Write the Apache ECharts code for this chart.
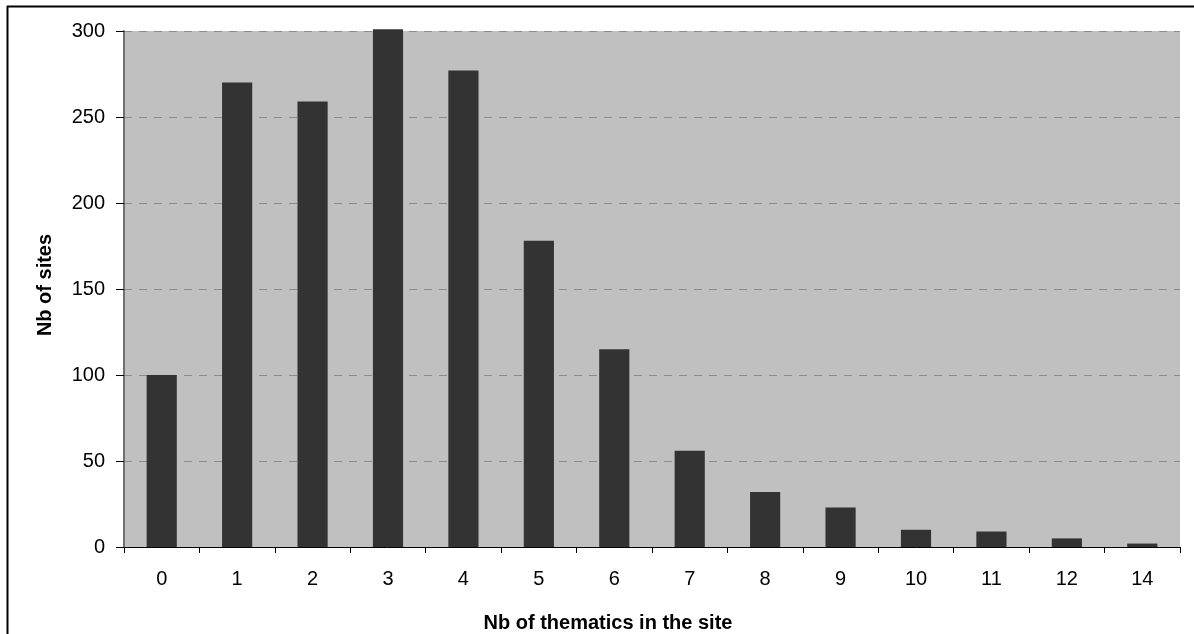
<!DOCTYPE html>
<html>
<head>
<meta charset="utf-8">
<script src="https://cdn.jsdelivr.net/npm/echarts@6/dist/echarts.min.js"></script>
<style>
html,body{margin:0;padding:0;background:#fff;}
#chart{width:1194px;height:634px;}
</style>
</head>
<body>
<div id="chart"></div>
<script>
const categories = ['0','1','2','3','4','5','6','7','8','9','10','11','12','14'];
const siteCounts = [100, 270, 259, 301, 277, 178, 115, 56, 32, 23, 10, 9, 5, 2];
const yTicks = [0, 50, 100, 150, 200, 250, 300];
const xTitle = 'Nb of thematics in the site';
const yTitle = 'Nb of sites';

const chart = echarts.init(document.getElementById('chart'), null, {renderer: 'canvas'});
const font = 'Liberation Sans, Arial, sans-serif';
chart.setOption({
  animation: false,
  backgroundColor: '#ffffff',
  grid: {left: 124, right: 14, top: 31, bottom: 87, show: true, backgroundColor: '#c0c0c0', borderWidth: 0,
    containLabel: false, outerBoundsMode: 'none'},
  graphic: [
    {type: 'line', shape: {x1: 7, y1: 6.5, x2: 1194, y2: 6.5}, style: {stroke: '#000', lineWidth: 2}, z: 10},
    {type: 'line', shape: {x1: 7.5, y1: 6, x2: 7.5, y2: 634}, style: {stroke: '#000', lineWidth: 2}, z: 10}
  ],
  xAxis: {
    type: 'category',
    data: categories,
    boundaryGap: true,
    name: xTitle,
    nameLocation: 'middle',
    nameGap: 66,
    nameTextStyle: {fontFamily: font, fontSize: 20, fontWeight: 'bold', color: '#000', padding: [0, 88, 0, 0]},
    axisLine: {show: true, lineStyle: {color: '#000', width: 1}},
    axisTick: {show: true, alignWithLabel: false, length: 6, lineStyle: {color: '#000'}},
    axisLabel: {fontFamily: font, fontSize: 20, color: '#000', margin: 22},
    splitLine: {show: false}
  },
  yAxis: {
    type: 'value',
    min: 0,
    max: 300,
    interval: 50,
    name: yTitle,
    nameLocation: 'middle',
    nameGap: 69,
    nameRotate: 90,
    nameTextStyle: {fontFamily: font, fontSize: 20, fontWeight: 'bold', color: '#000', padding: [0, 0, 0, 8]},
    axisLine: {show: true, lineStyle: {color: '#707070', width: 2}},
    axisTick: {show: true, length: 8, lineStyle: {color: '#000'}},
    axisLabel: {fontFamily: font, fontSize: 20, color: '#000', margin: 19,
      formatter: v => yTicks.includes(v) ? String(v) : ''},
    splitLine: {show: true, lineStyle: {color: '#8c8c8c', type: [8, 7], width: 1}}
  },
  series: [{
    type: 'bar',
    data: siteCounts,
    barWidth: '40%',
    clip: false,
    itemStyle: {color: '#333333'}
  }]
});
</script>
</body>
</html>
